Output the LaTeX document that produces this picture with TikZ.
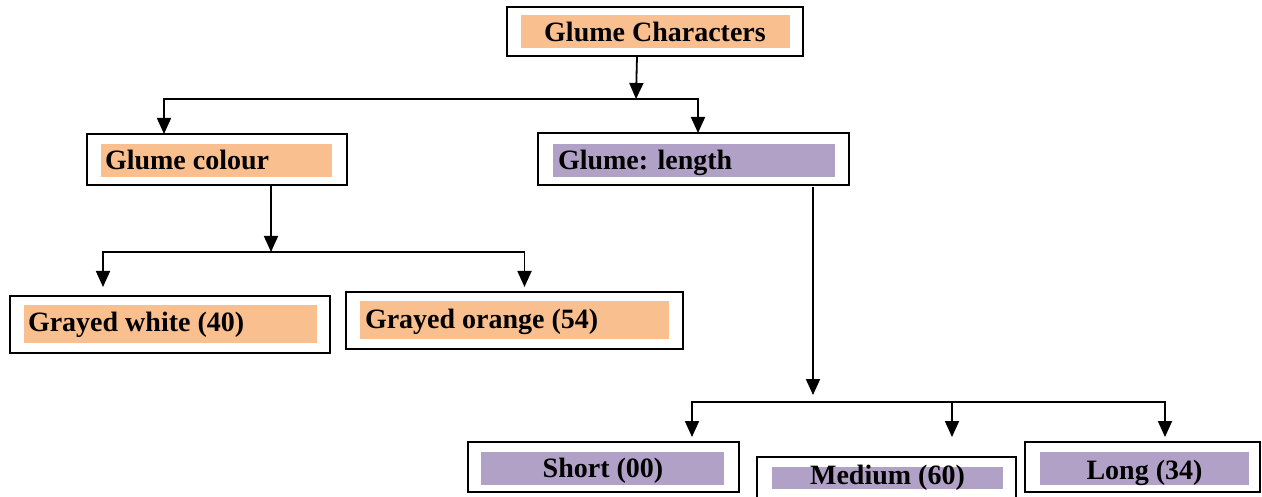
\documentclass[tikz,border=0pt]{standalone}
\usepackage{fontspec}
\setmainfont{Liberation Serif}
\usetikzlibrary{arrows.meta}
\definecolor{peach}{HTML}{F9BF8F}
\definecolor{lilac}{HTML}{B2A1C7}
\tikzset{
  frame/.style={draw=black, line width=1.8pt, fill=white, inner sep=0pt, outer sep=0pt},
  label/.style={inner sep=0pt, outer sep=0pt, font=\bfseries\fontsize{28}{30}\selectfont},
  link/.style={draw=black, line width=1.8pt},
  arr/.style={link, -{Triangle[length=16pt,width=14pt]}}
}
\begin{document}
\begin{tikzpicture}[x=1pt,y=-1pt]
\useasboundingbox (0,0) rectangle (1262,497);

% outer frames
\node[frame, minimum width=296pt, minimum height=49pt] (gc) at (655,31.5) {};
\node[frame, minimum width=260pt, minimum height=51pt] (col) at (217,159.5) {};
\node[frame, minimum width=311pt, minimum height=52pt] (len) at (693.5,159) {};
\node[frame, minimum width=320pt, minimum height=57pt] (gw) at (170,324.5) {};
\node[frame, minimum width=337pt, minimum height=57pt] (go) at (514.5,320.5) {};
\node[frame, minimum width=271pt, minimum height=50pt] (sh) at (603.5,467) {};
\node[frame, minimum width=259pt, minimum height=42pt] (me) at (886.5,478) {};
\node[frame, minimum width=235pt, minimum height=50pt] (lo) at (1142.5,467) {};

% shaded label bands
\fill[peach] (521,15) rectangle (790,48);
\fill[peach] (101,144) rectangle (332,177);
\fill[lilac] (553,144) rectangle (835,177);
\fill[peach] (24,305) rectangle (317,343);
\fill[peach] (360,301) rectangle (669,339);
\fill[lilac] (481,452) rectangle (724,485);
\fill[lilac] (772,467) rectangle (1003,489);
\fill[lilac] (1040,452) rectangle (1249,485);

% labels
\node[label, anchor=base] (gc-t) at (655,42) {Glume Characters};
\node[label, anchor=base west] (col-t) at (105,170) {Glume colour};
\node[label, anchor=base west] (len-t) at (558,170) {Glume: length};
\node[label, anchor=base west] (gw-t) at (28,331) {Grayed white (40)};
\node[label, anchor=base west] (go-t) at (365,329) {Grayed orange (54)};
\node[label, anchor=base] (sh-t) at (603,477) {Short (00)};
\node[label, anchor=base] (me-t) at (887.5,484) {Medium (60)};
\node[label, anchor=base] (lo-t) at (1144.5,479) {Long (34)};

% branch points and arrow ends
\coordinate (b1) at (636,99);
\coordinate (b2) at (271,252);
\coordinate (b3) at (813,402);
\coordinate (me-in) at ([xshift=65.5pt,yshift=20pt]me.north);

% connectors
\draw[arr] ([xshift=-18pt]gc.south) -- (b1);
\draw[arr] (b1) -| ([xshift=-53pt]col.north);
\draw[arr] (b1) -| ([xshift=4.5pt]len.north);

\draw[arr] ([xshift=54pt]col.south) -- (b2);
\draw[arr] (b2) -| ([xshift=-67pt,yshift=9pt]gw.north);
\draw[arr] (b2) -| ([xshift=10pt,yshift=5pt]go.north);

\draw[arr] ([xshift=119.5pt,yshift=-2pt]len.south) -- ([yshift=7pt]b3);
\draw[arr] (b3) -| ([xshift=88.5pt,yshift=5pt]sh.north);
\draw[arr] (b3) -| ([xshift=22.5pt,yshift=5pt]lo.north);
\draw[arr] (me-in |- b3) -- (me-in);
\end{tikzpicture}
\end{document}
